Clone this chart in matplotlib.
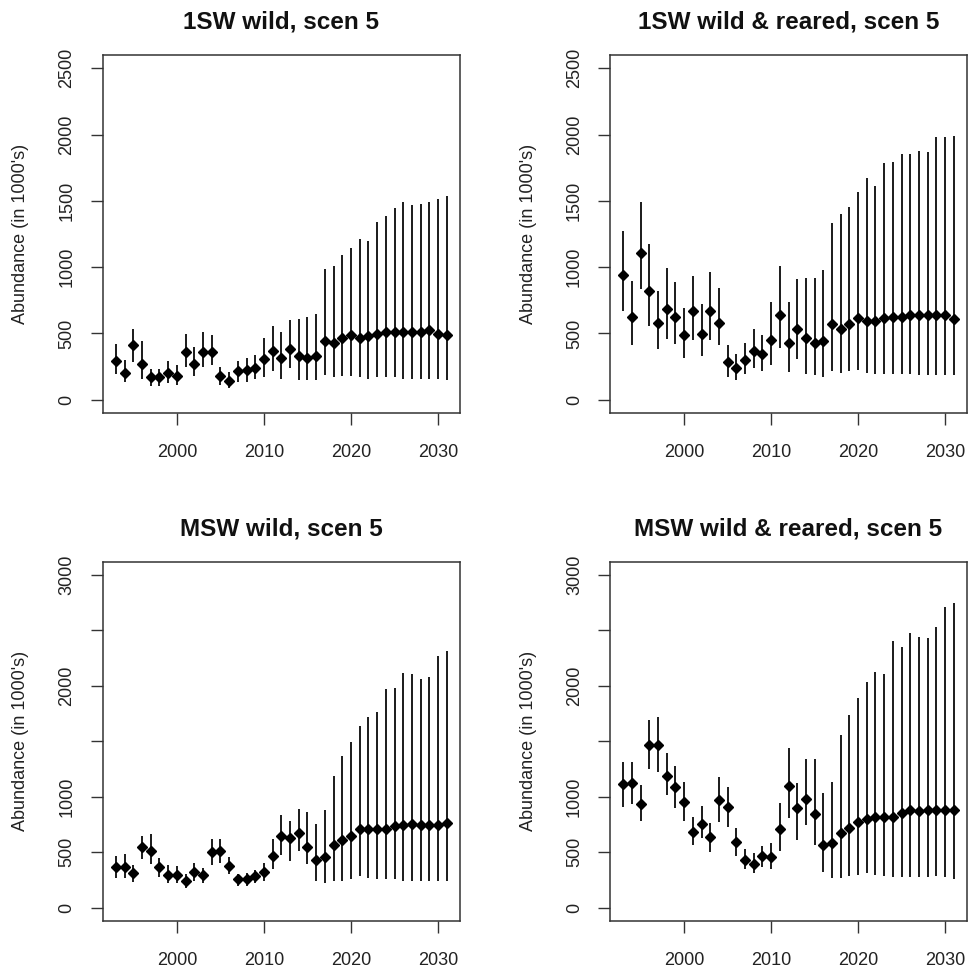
import matplotlib
matplotlib.use("Agg")
import matplotlib.pyplot as plt
import numpy as np

plt.rcParams['font.family'] = ['Liberation Sans', 'DejaVu Sans']

years = np.arange(1993, 2032)

# 1SW wild
sw1_wild_mid = [295, 204, 410, 272, 169, 169, 204, 181, 363, 272, 363, 363, 179, 144, 217, 227, 237, 307, 365,
                317, 385, 330, 317, 330, 441, 431, 468, 491, 466, 478, 499, 511, 511, 511, 511, 511, 524, 499, 486]
sw1_wild_lo = [194, 133, 285, 159, 101, 101, 126, 113, 247, 179, 247, 259, 113, 88, 133, 133, 154, 169, 214,
               159, 239, 146, 146, 146, 184, 171, 179, 179, 171, 159, 171, 171, 171, 159, 159, 159, 159, 159, 146]
sw1_wild_hi = [418, 302, 531, 441, 234, 234, 292, 259, 496, 395, 509, 486, 244, 209, 292, 315, 337, 466, 556,
               511, 599, 612, 624, 645, 985, 1010, 1090, 1148, 1216, 1196, 1342, 1387, 1443, 1488, 1468, 1476, 1488, 1513, 1539]

# 1SW wild & reared
sw1_all_mid = [944, 624, 1103, 818, 579, 685, 624, 486, 670, 499, 670, 579, 285, 239, 297, 365, 342,
               453, 637, 431, 536, 466, 431, 441, 569, 536, 569, 617, 592, 592, 617, 624, 624, 642, 642, 637, 642, 637, 612]
sw1_all_lo = [670, 410, 833, 556, 385, 456, 418, 317, 453, 330, 453, 410, 171, 146, 196, 239, 217,
              264, 390, 209, 310, 196, 184, 171, 217, 204, 217, 227, 204, 196, 196, 196, 196, 196, 184, 184, 184, 184, 184]
sw1_all_hi = [1274, 899, 1493, 1171, 818, 990, 889, 695, 934, 725, 964, 844, 410, 347, 431, 531, 491,
              738, 1010, 738, 909, 919, 919, 977, 1332, 1400, 1455, 1569, 1674, 1614, 1788, 1795, 1853, 1853, 1878, 1866, 1979, 1979, 1992]

# MSW wild
msw_wild_mid = [364, 364, 310, 544, 511, 364, 295, 295, 240, 325, 295, 499, 511, 379, 255, 255, 286, 325, 469,
                649, 625, 676, 550, 430, 460, 565, 610, 649, 709, 709, 709, 709, 736, 745, 754, 745, 745, 745, 760]
msw_wild_lo = [265, 271, 228, 436, 394, 274, 219, 219, 180, 243, 219, 385, 406, 301, 198, 195, 219, 243, 349,
               475, 421, 511, 391, 243, 219, 243, 243, 255, 286, 265, 255, 255, 255, 240, 240, 240, 240, 240, 240]
msw_wild_hi = [469, 481, 385, 646, 661, 445, 385, 376, 301, 400, 361, 616, 616, 454, 304, 310, 340, 400, 616,
               835, 782, 887, 866, 754, 881, 1190, 1368, 1491, 1641, 1722, 1762, 1969, 1978, 2113, 2104, 2062, 2077, 2264, 2309]

# MSW wild & reared
msw_all_mid = [1112, 1127, 932, 1467, 1467, 1190, 1085, 950, 685, 755, 634, 971, 905, 595, 430, 391, 469,
               460, 706, 1097, 896, 977, 842, 565, 580, 676, 721, 770, 800, 821, 821, 821, 851, 881, 875, 881, 881, 881, 881]
msw_all_lo = [905, 935, 785, 1248, 1220, 1016, 896, 785, 565, 625, 499, 770, 730, 469, 349, 310, 364,
              349, 511, 812, 610, 745, 565, 325, 271, 271, 286, 295, 310, 295, 286, 274, 280, 280, 280, 274, 286, 274, 256]
msw_all_hi = [1311, 1311, 1106, 1692, 1722, 1392, 1281, 1136, 821, 917, 767, 1175, 1091, 716, 526, 490, 559,
              580, 947, 1437, 1121, 1341, 1341, 1031, 1136, 1560, 1737, 1888, 2032, 2128, 2104, 2405, 2348, 2474, 2444, 2429, 2534, 2714, 2744]

titles = ["1SW wild, scen 5", "1SW wild & reared, scen 5",
          "MSW wild, scen 5", "MSW wild & reared, scen 5"]
top_ticks = [0, 500, 1000, 1500, 2000, 2500]
top_labels = ["0", "500", "1000", "1500", "2000", "2500"]
bot_ticks = [0, 500, 1000, 1500, 2000, 2500, 3000]
bot_labels = ["0", "500", "1000", "", "2000", "", "3000"]
x_ticks = [2000, 2010, 2020, 2030]

panels = [
    (sw1_wild_mid, sw1_wild_lo, sw1_wild_hi, 2500, top_ticks, top_labels),
    (sw1_all_mid, sw1_all_lo, sw1_all_hi, 2500, top_ticks, top_labels),
    (msw_wild_mid, msw_wild_lo, msw_wild_hi, 3000, bot_ticks, bot_labels),
    (msw_all_mid, msw_all_lo, msw_all_hi, 3000, bot_ticks, bot_labels),
]

# axes boxes in pixels: left, top, right, bottom
W, H = 971, 974
boxes = [(102.7, 55, 460, 413), (610, 55, 967, 413),
         (102.7, 561.5, 460, 921), (610, 561.5, 967, 921)]

fig = plt.figure(figsize=(W / 100, H / 100), dpi=100)

for (mid, lo, hi, ymax, yt, yl), (l, t, r, b), title in zip(panels, boxes, titles):
    ax = fig.add_axes([l / W, 1 - b / H, (r - l) / W, (b - t) / H])
    ax.vlines(years, lo, hi, color='#1a1a1a', lw=1.4)
    ax.plot(years, mid, 'D', color='black', ms=5.0, mec='black')
    xr = years[-1] - years[0]
    ax.set_xlim(years[0] - 0.04 * xr, years[-1] + 0.04 * xr)
    ax.set_ylim(-0.04 * ymax, ymax * 1.04)
    ax.set_xticks(x_ticks)
    ax.set_xticklabels([str(v) for v in x_ticks])
    ax.set_yticks(yt)
    ax.set_yticklabels(yl, rotation=90, va='center')
    ax.tick_params(axis='both', length=8.5, width=1.0, color='#333333', labelsize=13, labelcolor='#222222')
    ax.tick_params(axis='x', pad=14)
    ax.tick_params(axis='y', pad=11)
    for s in ax.spines.values():
        s.set_color('#333333')
        s.set_linewidth(1.1)
    ax.set_title(title, fontsize=17.5, fontweight='bold', pad=19, color='#111111')
    ax.set_ylabel("Abundance (in 1000's)", fontsize=13, color='#222222')
    ax.yaxis.set_label_coords(-0.205, 0.5)

fig.savefig("out.png", dpi=100)
